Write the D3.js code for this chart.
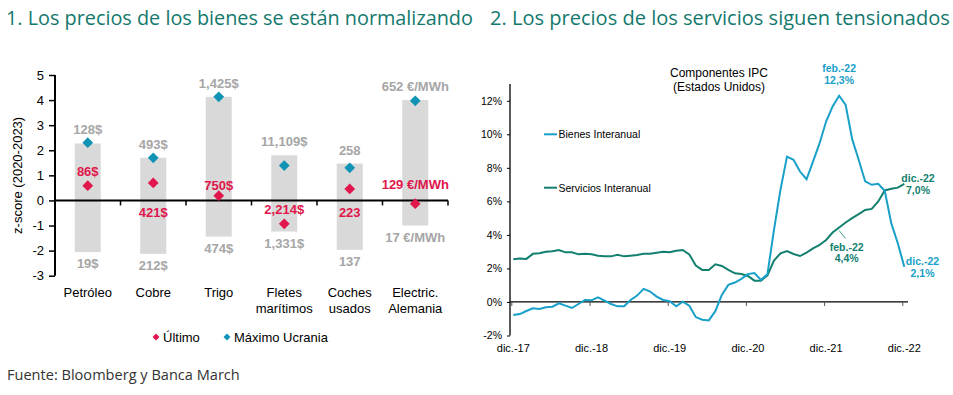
<!DOCTYPE html>
<html>
<head>
<meta charset="utf-8">
<script src="https://cdn.jsdelivr.net/npm/d3@7"></script>
<style>
  body { margin: 0; background: #fff; }
  text { font-family: "Liberation Sans", Arial, sans-serif; }
</style>
</head>
<body>
<div id="chart"></div>
<script>
// left chart data: z-scores (2020-2023)
const categories = [["Petróleo"], ["Cobre"], ["Trigo"], ["Fletes", "marítimos"], ["Coches", "usados"], ["Electric.", "Alemania"]];
const rangeMax = [2.27, 1.7, 4.13, 1.8, 1.47, 4.0];
const rangeMin = [-2.06, -2.13, -1.44, -1.24, -1.97, -1.0];
const maxUcrania = [2.3, 1.7, 4.13, 1.39, 1.3, 3.97];
const ultimo = [0.59, 0.7, 0.19, -0.93, 0.46, -0.13];
const maxLabels = ["128$", "493$", "1,425$", "11,109$", "258", "652 €/MWh"];
const minLabels = ["19$", "212$", "474$", "1,331$", "137", "17 €/MWh"];
const ultimoLabels = ["86$", "421$", "750$", "2,214$", "223", "129 €/MWh"];
const zTicks = [-3, -2, -1, 0, 1, 2, 3, 4, 5];

// right chart data: US CPI components, yoy %, monthly dic.-17 .. dic.-22
const yearLabels = ["dic.-17", "dic.-18", "dic.-19", "dic.-20", "dic.-21", "dic.-22"];
const bienes = [-0.78, -0.72, -0.54, -0.38, -0.42, -0.32, -0.28, -0.08, -0.22, -0.36, -0.12, 0.12,
  0.10, 0.28, 0.08, -0.12, -0.26, -0.26, 0.12, 0.38, 0.78, 0.62, 0.32, 0.12,
  0.04, -0.26, 0.02, -0.22, -0.9, -1.06, -1.1, -0.55, 0.42, 1.02, 1.16, 1.38,
  1.66, 1.72, 1.32, 1.66, 4.3, 6.7, 8.67, 8.48, 7.78, 7.32, 8.38, 9.47,
  10.76, 11.66, 12.3, 11.76, 9.71, 8.48, 7.19, 6.99, 7.05, 6.63, 4.7, 3.5, 2.1];
const servicios = [2.55, 2.59, 2.57, 2.87, 2.9, 3.0, 3.02, 3.1, 2.96, 2.96, 2.84, 2.87,
  2.84, 2.76, 2.72, 2.72, 2.82, 2.72, 2.76, 2.8, 2.87, 2.88, 2.94, 3.0,
  2.96, 3.06, 3.1, 2.84, 2.17, 1.91, 1.91, 2.25, 2.15, 1.91, 1.71, 1.67,
  1.55, 1.27, 1.27, 1.59, 2.47, 2.9, 3.04, 2.86, 2.74, 2.94, 3.2, 3.4,
  3.7, 4.14, 4.44, 4.74, 5.0, 5.24, 5.49, 5.55, 5.99, 6.65, 6.75, 6.82, 7.04];
const pctTicks = [-2, 0, 2, 4, 6, 8, 10, 12];

(() => {
  const width = 953;
  const height = 395;
  const teal = "#13796d";
  const red = "#e0164c";
  const blue = "#1193b5";
  const grey = "#a6a6a6";
  const lineBlue = "#18a0c8";
  const lineTeal = "#13806f";

  const svg = d3.select("#chart").append("svg")
    .attr("width", width).attr("height", height);

  svg.append("rect").attr("width", width).attr("height", height).attr("fill", "#fff");

  // titles, fitted to the width they take in the original
  const fit = (sel, w) => {
    const len = sel.node().getComputedTextLength();
    sel.attr("font-size", 20 * w / len);
  };
  const t1 = svg.append("text").attr("x", 6).attr("y", 25)
    .attr("fill", teal).attr("font-size", 20).style("font-family", "'Open Sans'")
    .text("1. Los precios de los bienes se están normalizando");
  fit(t1, 467);
  const t2 = svg.append("text").attr("x", 490).attr("y", 25)
    .attr("fill", teal).attr("font-size", 20).style("font-family", "'Open Sans'")
    .text("2. Los precios de los servicios siguen tensionados");
  fit(t2, 460);

  const src = svg.append("text").attr("x", 7).attr("y", 380)
    .attr("fill", "#333").attr("font-size", 15).style("font-family", "'Open Sans'")
    .text("Fuente: Bloomberg y Banca March");
  const sl = src.node().getComputedTextLength();
  src.attr("font-size", 15 * 233 / sl);

  // ---------- left chart ----------
  const x = d3.scaleBand().domain(d3.range(categories.length)).range([55, 448]);
  const y = d3.scaleLinear().domain([-3, 5]).range([275.7, 75]);
  const bw = 26;
  const diamond = d3.symbol().type(d3.symbolSquare).size(58);
  const cx = i => x(i) + x.bandwidth() / 2;

  const left = svg.append("g");

  left.selectAll("rect.range").data(categories).join("rect")
    .attr("class", "range")
    .attr("x", (d, i) => cx(i) - bw / 2)
    .attr("width", bw)
    .attr("y", (d, i) => y(rangeMax[i]))
    .attr("height", (d, i) => y(rangeMin[i]) - y(rangeMax[i]))
    .attr("fill", "#d9d9d9");

  // y axis
  const yAxis = left.append("g").attr("transform", "translate(55,0)")
    .call(d3.axisLeft(y).tickValues(zTicks).tickSize(6).tickPadding(5).tickFormat(d => String(d)));
  yAxis.select(".domain").attr("stroke", "#000").attr("stroke-width", 2).attr("d", `M0,${y(-3)}V${y(5)}`);
  yAxis.selectAll(".tick line").attr("stroke", "#000").attr("stroke-width", 1.5);
  yAxis.selectAll(".tick text").attr("font-size", 13).attr("fill", "#000")
    .style("font-family", "'Liberation Sans', Arial");

  // zero line with category ticks
  left.append("line").attr("x1", 55).attr("x2", 448).attr("y1", y(0)).attr("y2", y(0))
    .attr("stroke", "#000").attr("stroke-width", 2);
  left.selectAll("line.ctick").data(d3.range(1, categories.length + 1)).join("line")
    .attr("class", "ctick")
    .attr("x1", i => x.range()[0] + i * x.step()).attr("x2", i => x.range()[0] + i * x.step())
    .attr("y1", y(0)).attr("y2", y(0) + 5)
    .attr("stroke", "#000").attr("stroke-width", 1.5);

  left.append("text")
    .attr("transform", `translate(22,${y(1)}) rotate(-90)`)
    .attr("text-anchor", "middle").attr("font-size", 13).attr("fill", "#000")
    .text("z-score (2020-2023)");

  // category labels
  left.selectAll("text.cat").data(categories).join("text")
    .attr("class", "cat")
    .attr("text-anchor", "middle").attr("font-size", 13).attr("fill", "#000")
    .attr("x", (d, i) => cx(i))
    .selectAll("tspan").data(d => d).join("tspan")
    .attr("x", function () { return d3.select(this.parentNode).attr("x"); })
    .attr("y", (d, j) => 297 + j * 15.5)
    .text(d => d);

  // grey range labels
  left.selectAll("text.maxl").data(maxLabels).join("text")
    .attr("class", "maxl")
    .attr("text-anchor", "middle").attr("font-size", 13).attr("font-weight", "bold").attr("fill", grey)
    .attr("x", (d, i) => cx(i)).attr("y", (d, i) => y(rangeMax[i]) - 9)
    .text(d => d);
  left.selectAll("text.minl").data(minLabels).join("text")
    .attr("class", "minl")
    .attr("text-anchor", "middle").attr("font-size", 13).attr("font-weight", "bold").attr("fill", grey)
    .attr("x", (d, i) => cx(i)).attr("y", (d, i) => y(rangeMin[i]) + 16)
    .text(d => d);

  // diamonds
  left.selectAll("path.maxu").data(maxUcrania).join("path")
    .attr("class", "maxu")
    .attr("d", diamond)
    .attr("transform", (d, i) => `translate(${cx(i)},${y(d)}) rotate(45)`)
    .attr("fill", blue);
  left.selectAll("path.ult").data(ultimo).join("path")
    .attr("class", "ult")
    .attr("d", diamond)
    .attr("transform", (d, i) => `translate(${cx(i)},${y(d)}) rotate(45)`)
    .attr("fill", red);

  // where each "último" label sits relative to its diamond
  const ultDy = [-10, 34, -6, -10, 28, -15];
  left.selectAll("text.ultl").data(ultimoLabels).join("text")
    .attr("class", "ultl")
    .attr("text-anchor", "middle").attr("font-size", 13).attr("font-weight", "bold").attr("fill", red)
    .attr("x", (d, i) => cx(i)).attr("y", (d, i) => y(ultimo[i]) + ultDy[i])
    .text(d => d);

  // legend
  const smallDiamond = d3.symbol().type(d3.symbolSquare).size(24);
  const lg = left.append("g").attr("transform", "translate(0,337)");
  [["Último", red, 156], ["Máximo Ucrania", blue, 227]].forEach(([name, col, lx]) => {
    lg.append("path").attr("d", smallDiamond).attr("transform", `translate(${lx},0) rotate(45)`).attr("fill", col);
    lg.append("text").attr("x", lx + 7).attr("y", 4.5).attr("font-size", 13).attr("fill", "#000").text(name);
  });

  // ---------- right chart ----------
  const xr = d3.scaleLinear().domain([0, 60]).range([513.3, 904.3]);
  const yr = d3.scaleLinear().domain([-2, 13]).range([335.5, 84]);
  const right = svg.append("g");

  const ya = right.append("g").attr("transform", "translate(510,0)")
    .call(d3.axisLeft(yr).tickValues(pctTicks).tickSize(3).tickPadding(5).tickFormat(d => d + "%"));
  ya.select(".domain").attr("stroke", "#000").attr("stroke-width", 1.3).attr("d", `M0,${yr(-2)}V${yr(13)}`);
  ya.selectAll(".tick line").attr("stroke", "#000");
  ya.selectAll(".tick text").attr("font-size", 10.5).attr("fill", "#000")
    .style("font-family", "'Liberation Sans', Arial");

  right.append("line").attr("x1", 510).attr("x2", 908).attr("y1", yr(0)).attr("y2", yr(0))
    .attr("stroke", "#000").attr("stroke-width", 1.3);
  right.selectAll("line.mtick").data(yearLabels).join("line")
    .attr("class", "mtick")
    .attr("x1", (d, i) => xr(i * 12) - 1.5).attr("x2", (d, i) => xr(i * 12) - 1.5)
    .attr("y1", yr(0)).attr("y2", yr(0) + 4)
    .attr("stroke", "#555");
  right.selectAll("text.mlab").data(yearLabels).join("text")
    .attr("class", "mlab")
    .attr("text-anchor", "middle").attr("font-size", 11).attr("fill", "#000")
    .attr("x", (d, i) => xr(i * 12)).attr("y", 352)
    .text(d => d);

  const line = d3.line().x((d, i) => xr(i)).y(d => yr(d));
  right.append("path").datum(servicios).attr("d", line)
    .attr("fill", "none").attr("stroke", lineTeal).attr("stroke-width", 2);
  right.append("path").datum(bienes).attr("d", line)
    .attr("fill", "none").attr("stroke", lineBlue).attr("stroke-width", 2);

  // chart heading
  right.append("text").attr("text-anchor", "middle").attr("font-size", 12).attr("fill", "#000")
    .attr("x", 719).attr("y", 77).text("Componentes IPC");
  right.append("text").attr("text-anchor", "middle").attr("font-size", 12).attr("fill", "#000")
    .attr("x", 719).attr("y", 91).text("(Estados Unidos)");

  // legend
  [["Bienes Interanual", lineBlue, 134.3], ["Servicios Interanual", lineTeal, 187.7]].forEach(([name, col, ly]) => {
    right.append("line").attr("x1", 544).attr("x2", 557).attr("y1", ly).attr("y2", ly)
      .attr("stroke", col).attr("stroke-width", 2);
    right.append("text").attr("x", 558.5).attr("y", ly + 3.8).attr("font-size", 10.5).attr("fill", "#000").text(name);
  });

  // annotations
  const note = (lines, col, ax, ay) => {
    lines.forEach((s, j) => {
      right.append("text").attr("text-anchor", "middle").attr("font-size", 10.5).attr("font-weight", "bold")
        .attr("fill", col).attr("x", ax).attr("y", ay + j * 11.8).text(s);
    });
  };
  note(["feb.-22", "12,3%"], lineBlue, xr(50), yr(bienes[50]) - 24);
  note(["dic.-22", "7,0%"], lineTeal, 918, yr(servicios[60]) - 2);
  note(["dic.-22", "2,1%"], lineBlue, 922.5, yr(bienes[60]) - 2);
  right.append("line").attr("x1", xr(50)).attr("y1", yr(servicios[50]) + 3)
    .attr("x2", xr(50) + 6.5).attr("y2", yr(servicios[50]) + 11)
    .attr("stroke", lineTeal).attr("stroke-width", 0.8);
  note(["feb.-22", "4,4%"], lineTeal, 846.7, yr(servicios[50]) + 23);
})();
</script>
</body>
</html>
